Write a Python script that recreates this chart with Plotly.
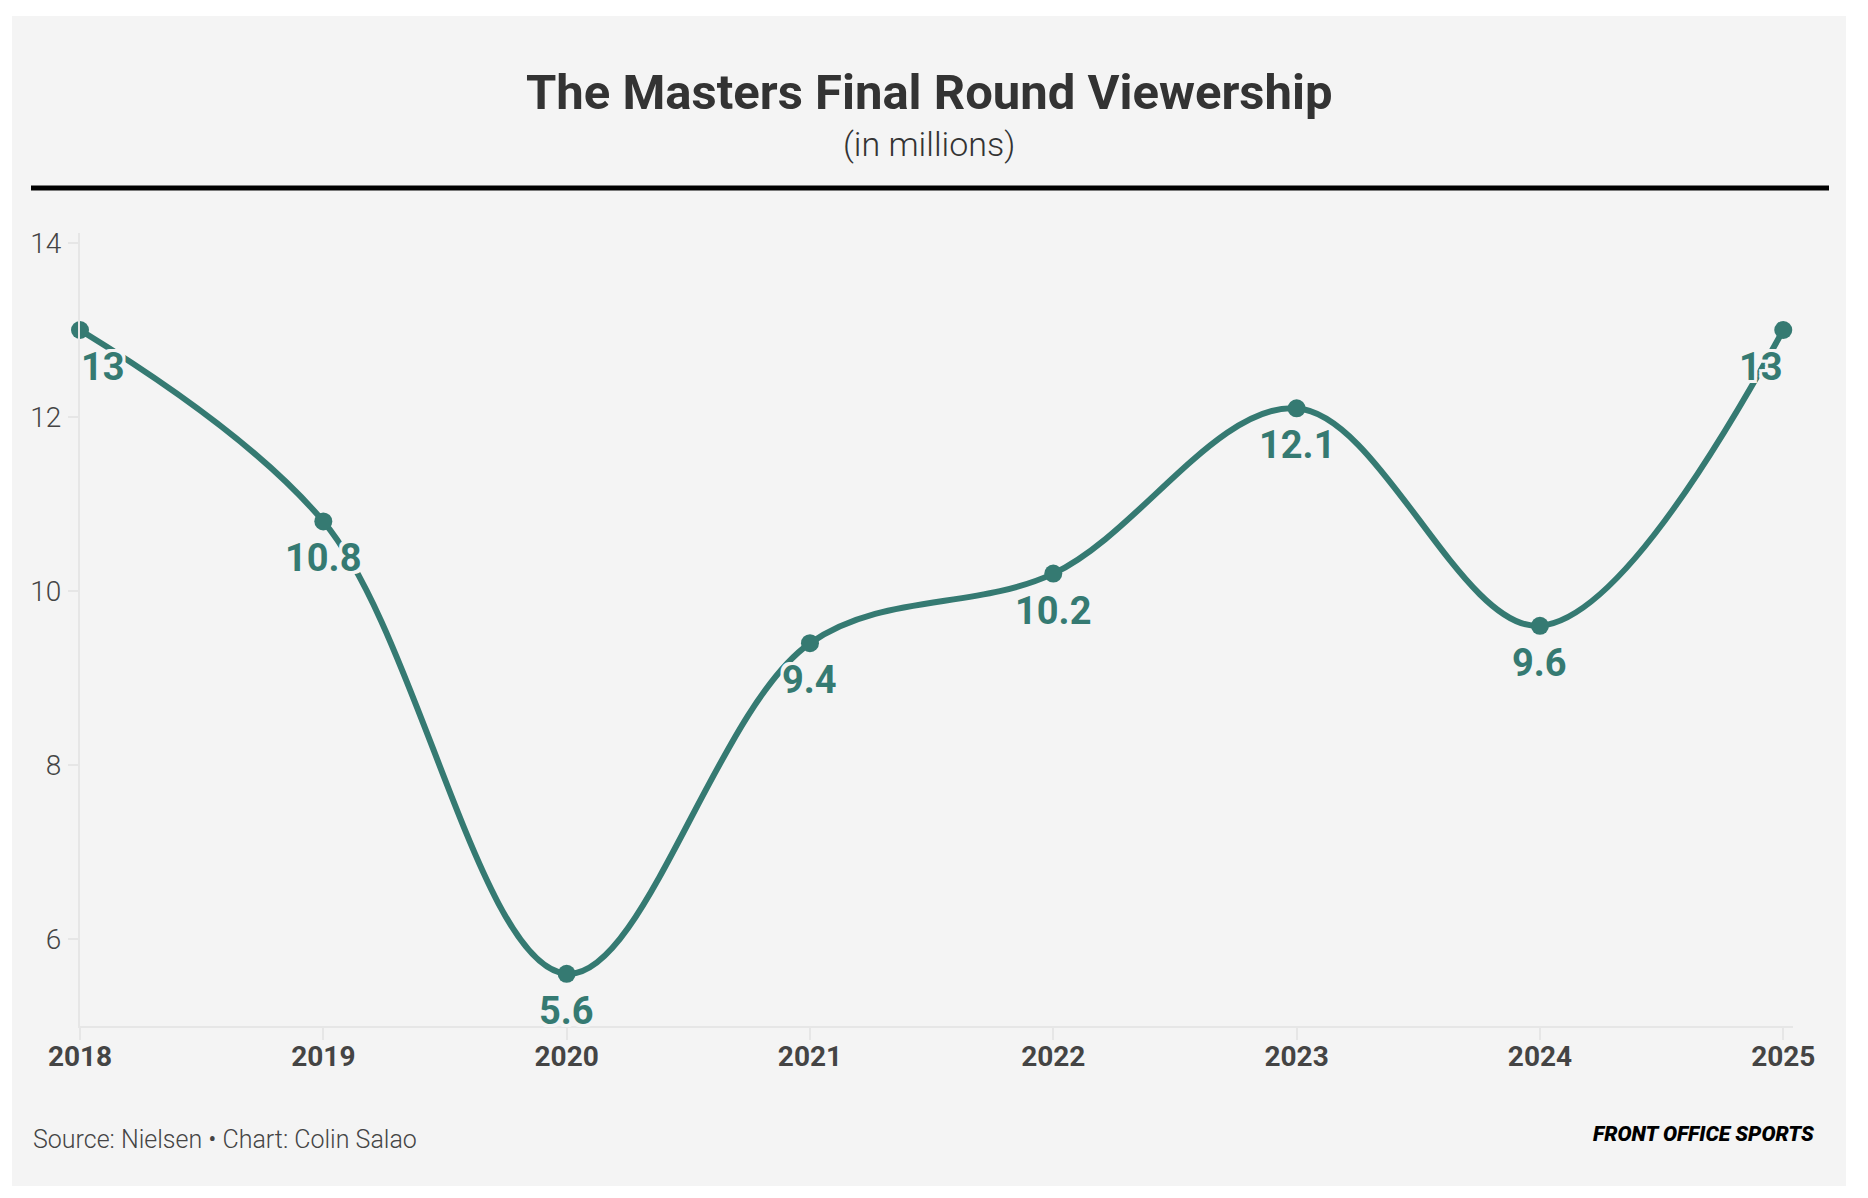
import plotly.graph_objects as go

# ---- data ----
years = [2018, 2019, 2020, 2021, 2022, 2023, 2024, 2025]
viewers = [13.0, 10.8, 5.6, 9.4, 10.2, 12.1, 9.6, 13.0]
labels = ["13", "10.8", "5.6", "9.4", "10.2", "12.1", "9.6", "13"]
y_ticks = [6, 8, 10, 12, 14]
x_ticks = years

TEAL = "#357a72"
PANEL = "#f4f4f4"
FONT = "Roboto"

OFF = 8  # page body margin
W, H = 1852, 1182
# plot area in reference (screen) pixel coordinates
PX0, PX1, PY0, PY1 = 80, 1793, 233, 1026
L, T = PX0 - OFF, PY0 - OFF
PW, PH = PX1 - PX0, PY1 - PY0
R, B = W - L - PW, H - T - PH


def px(x):
    return (x - PX0) / PW


def py(y):
    return (PY1 - y) / PH


fig = go.Figure()
fig.add_trace(go.Scatter(
    x=years, y=viewers, mode="lines+markers",
    line=dict(color=TEAL, width=6, shape="spline", smoothing=1.0),
    marker=dict(color=TEAL, size=18),
    cliponaxis=False, hoverinfo="x+y", showlegend=False,
))

halo = ", ".join(f"{dx}px {dy}px 0 {PANEL}" for dx in (-3, 0, 3) for dy in (-3, 0, 3) if dx or dy)
n = len(years)
for i, (xv, yv, lab) in enumerate(zip(years, viewers, labels)):
    if i == 0:
        xa, xs = "left", -1
    elif i == n - 1:
        xa, xs = "right", 2
    else:
        xa, xs = "center", 0
    fig.add_annotation(
        x=xv, y=yv, text=lab, showarrow=False, xanchor=xa, yanchor="middle",
        xshift=xs, yshift=-37,
        font=dict(family=FONT, size=38, color=TEAL, weight=700, shadow=halo),
    )

# panel background
fig.add_shape(type="rect", xref="paper", yref="paper", layer="below",
              x0=px(12), x1=px(1846), y0=py(1186), y1=py(16),
              fillcolor=PANEL, line=dict(width=0))
# black rule
fig.add_shape(type="line", xref="paper", yref="paper",
              x0=px(31), x1=px(1829), y0=py(188), y1=py(188),
              line=dict(color="#000000", width=5))

fig.add_annotation(xref="paper", yref="paper", x=px(929), y=py(93),
                   text="The Masters Final Round Viewership", showarrow=False,
                   xanchor="center", yanchor="middle",
                   font=dict(family=FONT, size=49, color="#333333", weight=700))
fig.add_annotation(xref="paper", yref="paper", x=px(929), y=py(144),
                   text="(in millions)", showarrow=False,
                   xanchor="center", yanchor="middle",
                   font=dict(family=FONT, size=34, color="#333333", weight=300))
fig.add_annotation(xref="paper", yref="paper", x=px(31), y=py(1139),
                   text="Source: Nielsen • Chart: Colin Salao", showarrow=False,
                   xanchor="left", yanchor="middle",
                   font=dict(family=FONT, size=25, color="#444444", weight=300))
fig.add_annotation(xref="paper", yref="paper", x=px(1816), y=py(1134),
                   text="FRONT OFFICE SPORTS", showarrow=False,
                   xanchor="right", yanchor="middle",
                   font=dict(family=FONT, size=21, color="#000000", weight=900, style="italic"))

fig.update_layout(
    width=W, height=H,
    margin=dict(l=L, r=R, t=T, b=B, autoexpand=False),
    paper_bgcolor="#ffffff", plot_bgcolor=PANEL,
    font=dict(family=FONT),
    showlegend=False,
)
fig.update_xaxes(
    range=[2018, 2025.04], tickvals=x_ticks, ticktext=[str(y) for y in x_ticks],
    showgrid=False, zeroline=False, showline=True, linecolor="#e6e6e6", linewidth=2,
    ticks="outside", ticklen=12, tickcolor="#e6e6e6", tickwidth=2, ticklabelstandoff=-8,
    tickfont=dict(family=FONT, size=28, color="#444444", weight=700),
    fixedrange=True,
)
fig.update_yaxes(
    range=[5, 14.115], tickvals=y_ticks, ticktext=[str(v) for v in y_ticks],
    showgrid=False, zeroline=False, showline=True, linecolor="#e6e6e6", linewidth=2,
    ticks="outside", ticklen=10, tickcolor="#e6e6e6", tickwidth=2, ticklabelstandoff=1,
    tickfont=dict(family=FONT, size=28, color="#444444", weight=300),
    fixedrange=True,
)

fig.write_html("out.html")
